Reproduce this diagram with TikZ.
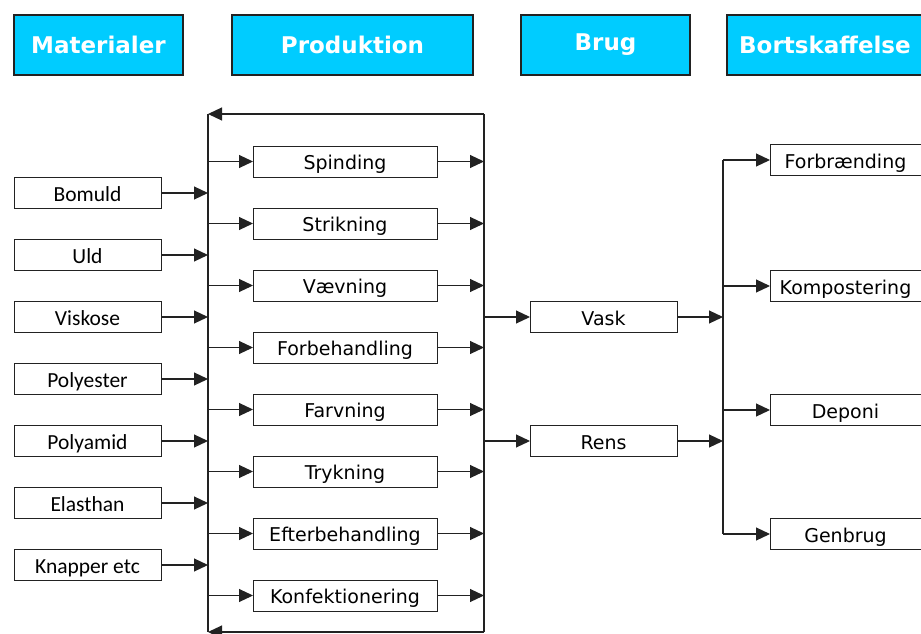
\documentclass[tikz,border=0pt]{standalone}
\usepackage{fontspec}
\setmainfont{DejaVu Sans}
\newfontfamily\matfont{Carlito}
\usetikzlibrary{arrows.meta}
\definecolor{headcyan}{HTML}{00CCFF}
\definecolor{linegray}{HTML}{222222}
\begin{document}
\begin{tikzpicture}[x=1pt,y=-1pt,
  every node/.style={inner sep=0pt,outer sep=0pt},
  head/.style={draw=linegray,line width=1.2pt,fill=headcyan,minimum height=60pt,
    text=white,font=\fontsize{23}{23}\selectfont\bfseries},
  labelbox/.style={draw=linegray,line width=1pt,minimum height=31pt,
    text height=17pt,text depth=1pt},
  matbox/.style={labelbox,minimum width=147pt,font=\matfont\fontsize{21.5}{21.5}\selectfont},
  procbox/.style={labelbox,minimum width=184pt,font=\fontsize{19}{19}\selectfont},
  usebox/.style={labelbox,minimum width=147pt,font=\fontsize{19}{19}\selectfont},
  endbox/.style={labelbox,minimum width=151pt,font=\fontsize{19}{19}\selectfont},
  flow/.style={draw=linegray,line width=1.1pt},
  arr/.style={flow,-{Triangle[length=14pt,width=13pt]}}]
\useasboundingbox (0,0) rectangle (921,634);

% column headers
\node[head,minimum width=169pt] (hmat) at (98.5,45) {Materialer};
\node[head,minimum width=241pt] (hprod) at (352.5,45) {Produktion};
\node[head,minimum width=169pt] (hbrug) at (605.5,45) {Brug};
\node[head,minimum width=196pt] (hbort) at (825,45) {Bortskaffelse};

% material boxes
\foreach \n/\t [count=\i from 0] in {m1/Bomuld,m2/Uld,m3/Viskose,m4/Polyester,m5/Polyamid,m6/Elasthan,m7/Knapper etc}{
  \node[matbox] (\n) at (87.5,193+62*\i) {\t};
  \coordinate (\n in) at (208,193+62*\i);
  \draw[arr] (\n.east) -- (\n in);
}

% production frame with return lines
\coordinate (ptl) at (208,114);
\coordinate (ptr) at (484,114);
\coordinate (pbl) at (208,632);
\coordinate (pbr) at (484,632);
\draw[flow] (ptl) -- (pbl);
\draw[flow] (ptr) -- (pbr);
\draw[arr] (ptr) -- (ptl);
\draw[arr] (pbr) -- (pbl);

% production steps
\foreach \n/\t [count=\i from 0] in {p1/Spinding,p2/Strikning,p3/Vævning,p4/Forbehandling,p5/Farvning,p6/Trykning,p7/Efterbehandling,p8/Konfektionering}{
  \node[procbox] (\n) at (345,161.5+62*\i) {\t};
  \coordinate (\n l) at (208,161.5+62*\i);
  \coordinate (\n r) at (484,161.5+62*\i);
  \draw[arr] (\n l) -- (\n.west);
  \draw[arr] (\n.east) -- (\n r);
}

% use phase
\node[usebox] (vask) at (603.5,317) {Vask};
\node[usebox] (rens) at (603.5,441) {Rens};
\coordinate (vaskl) at (484,317);
\coordinate (rensl) at (484,441);
\coordinate (vaskr) at (723,317);
\coordinate (rensr) at (723,441);
\draw[arr] (vaskl) -- (vask.west);
\draw[arr] (rensl) -- (rens.west);
\draw[arr] (vask.east) -- (vaskr);
\draw[arr] (rens.east) -- (rensr);

% disposal
\coordinate (dtop) at (723,160);
\coordinate (dbot) at (723,534);
\draw[flow] (dtop) -- (dbot);
\foreach \n/\t/\y in {d1/Forbrænding/160,d2/Kompostering/286,d3/Deponi/410,d4/Genbrug/534}{
  \node[endbox] (\n) at (845.5,\y) {\t};
  \coordinate (\n l) at (723,\y);
  \draw[arr] (\n l) -- (\n.west);
}
\end{tikzpicture}
\end{document}
